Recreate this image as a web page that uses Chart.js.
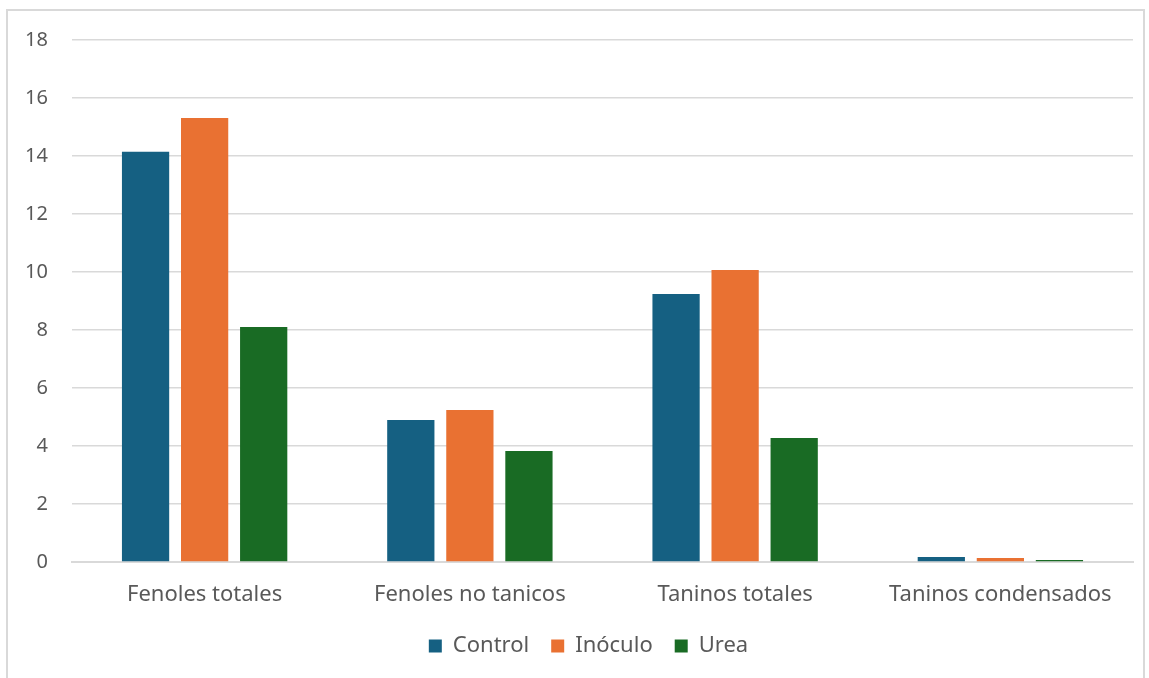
<!DOCTYPE html>
<html>
<head>
<meta charset="utf-8">
<script src="https://cdn.jsdelivr.net/npm/chart.js@4/dist/chart.umd.min.js"></script>
<style>
  html, body { margin: 0; padding: 0; background: #fff; }
  #frame {
    position: absolute; left: 6px; top: 9px; width: 1139px; height: 680px;
    border: 2px solid #d9d9d9; box-sizing: border-box;
  }
  #wrap { position: absolute; left: 0; top: 0; width: 1149px; height: 678px; }
</style>
</head>
<body>
<div id="frame"></div>
<div id="wrap"><canvas id="chart"></canvas></div>
<script>
/* ── Data ── */
const categories = ['Fenoles totales', 'Fenoles no tanicos', 'Taninos totales', 'Taninos condensados'];
const controlValues = [14.15, 4.90, 9.24, 0.17];
const inoculoValues = [15.31, 5.24, 10.07, 0.14];
const ureaValues    = [8.10, 3.83, 4.28, 0.07];
const yTicks = [0, 2, 4, 6, 8, 10, 12, 14, 16, 18];

const FONT = "'Noto Sans', sans-serif";
const TEXT = '#595959';

function dataset(label, data, color) {
  return {
    label, data,
    backgroundColor: color,
    borderWidth: 0,
    categoryPercentage: 0.668,
    barPercentage: 0.8
  };
}

// legend sits a bit right of the canvas centre in the original
const legendShift = {
  id: 'legendShift',
  afterLayout(chart) {
    const lg = chart.legend;
    lg.left += 22; lg.right += 22;
    lg.top -= 5; lg.bottom -= 5;
  }
};

new Chart(document.getElementById('chart'), {
  type: 'bar',
  data: {
    labels: categories,
    datasets: [
      dataset('Control', controlValues, '#156082'),
      dataset('Inóculo', inoculoValues, '#E97132'),
      dataset('Urea', ureaValues, '#196B24')
    ]
  },
  plugins: [legendShift],
  options: {
    responsive: true,
    maintainAspectRatio: false,
    animation: false,
    layout: { padding: { top: 40, right: 16, bottom: 6, left: 0 } },
    plugins: {
      tooltip: { enabled: false },
      legend: {
        position: 'bottom',
        labels: {
          font: { family: FONT, size: 22 },
          color: TEXT,
          boxWidth: 13,
          boxHeight: 13,
          padding: 22
        }
      }
    },
    scales: {
      x: {
        grid: { display: false },
        border: { color: '#d9d9d9', width: 2 },
        ticks: { font: { family: FONT, size: 22 }, color: TEXT, padding: 12 },
        afterFit: s => { s.height = 56; }
      },
      y: {
        min: 0, max: 18,
        afterBuildTicks: s => { s.ticks = yTicks.map(v => ({ value: v })); },
        grid: { color: '#d9d9d9', lineWidth: 1.5, drawTicks: false },
        border: { display: false },
        ticks: { font: { family: FONT, size: 20 }, color: TEXT, padding: 24 },
        afterFit: s => { s.width = 72; }
      }
    }
  }
});
</script>
</body>
</html>
